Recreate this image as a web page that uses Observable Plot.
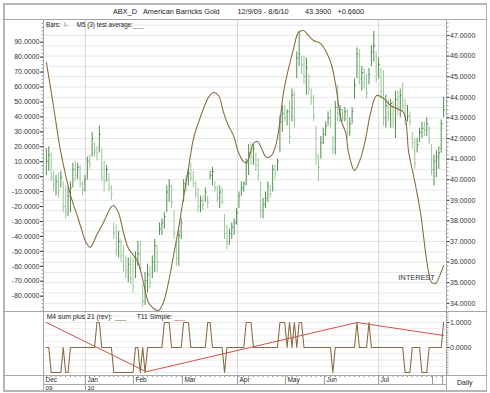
<!DOCTYPE html>
<html><head><meta charset="utf-8">
<script src="https://cdn.jsdelivr.net/npm/d3@7"></script>
<script src="https://cdn.jsdelivr.net/npm/@observablehq/plot@0.6"></script>
<style>
body{margin:0;background:#fff;font-family:"Liberation Sans",Arial,sans-serif;}
#wrap{position:relative;width:490px;height:393px;overflow:hidden;background:#fff;}
.ln{position:absolute;}
.t{position:absolute;white-space:pre;color:#222;line-height:1;}
</style></head><body><div id="wrap"></div>
<script>
// ---- data: daily bars (bar index 0 = 12/9/09 ... 165 = 8/6/10) ----
const hi = [41.5,41.6,41.3,40.4,40.2,40.3,40.4,39.9,39.7,39.6,
39.9,40.8,40.9,40.8,40.7,39.9,40.2,41.1,41.2,42.3,
41.8,41.6,42.6,41.5,40.9,40.7,40.3,39.7,37.9,37.8,
37.5,37.1,36.8,36.3,36.2,36.3,36.2,36.5,37.0,37.0,
34.9,35.5,35.9,35.8,36.3,37.1,36.8,37.9,38.1,38.4,
39.7,40.0,39.7,38.5,37.1,37.6,38.1,40.0,40.2,40.5,
40.8,40.4,39.9,39.6,39.2,39.2,39.6,39.2,40.4,40.6,
39.9,39.7,39.7,39.6,38.3,37.8,37.6,37.9,38.1,38.6,
39.4,39.9,39.9,41.0,41.7,41.8,41.7,41.3,41.0,39.9,
39.1,39.4,39.9,39.7,40.7,40.7,41.0,43.1,43.6,43.6,
43.4,43.8,44.4,44.3,46.2,47.2,46.0,46.0,45.9,45.1,
44.4,44.1,42.6,41.2,42.1,42.5,42.8,43.3,43.4,42.1,
43.8,44.6,43.6,43.4,43.5,43.4,43.0,43.5,44.9,46.4,
46.3,45.5,45.4,45.1,45.4,46.5,47.2,46.2,45.9,45.4,
45.3,44.1,43.9,43.9,43.8,44.3,44.3,44.4,44.7,43.9,
43.6,43.3,42.3,42.0,42.0,42.5,42.8,42.8,43.0,42.6,
41.7,41.2,41.4,41.6,42.9,44.0];
const lo = [40.2,40.4,39.9,39.4,39.2,39.1,39.6,38.4,38.1,38.2,
38.4,39.6,39.9,40.0,39.6,39.2,39.4,40.0,40.5,41.1,
41.1,40.9,41.3,39.9,39.4,39.9,39.4,39.0,37.1,36.3,
36.2,36.0,35.5,35.2,35.0,34.9,34.5,35.2,35.8,35.5,
33.8,33.9,34.5,34.7,35.2,35.5,35.5,37.3,37.3,37.6,
38.4,38.9,38.6,37.1,35.8,35.8,37.1,38.9,39.4,39.7,
39.9,39.6,39.1,38.4,38.4,38.5,38.9,38.6,40.0,39.7,
39.4,38.9,38.6,38.8,37.1,36.6,36.8,37.1,37.3,37.8,
38.6,39.2,39.4,39.7,40.2,40.7,40.7,40.4,39.9,38.1,
38.1,38.6,38.9,39.1,39.4,40.0,40.4,41.3,42.3,42.8,
42.6,41.7,42.8,42.5,44.9,45.5,45.1,44.6,44.1,44.1,
43.6,42.8,40.7,39.9,41.0,41.7,42.1,42.6,42.5,41.2,
41.2,42.8,42.8,42.8,42.8,42.0,42.1,42.7,43.9,44.9,
44.6,44.3,44.4,43.9,44.6,45.5,45.7,44.7,44.9,43.9,
42.6,42.5,42.8,42.5,42.5,42.0,43.1,43.0,43.3,42.6,
42.8,42.6,41.5,40.5,41.3,41.8,42.0,42.1,42.1,41.7,
40.2,39.7,40.1,40.5,41.3,43.0];
const cl = [40.9,41.2,40.1,39.7,39.9,39.5,40.1,38.7,38.4,39.2,
39.6,40.5,40.2,40.6,39.8,39.5,40.0,40.9,40.8,42.0,
41.4,41.3,42.2,40.1,39.9,40.5,39.6,39.3,37.4,36.6,
37.0,36.3,35.8,35.6,35.9,35.2,34.8,36.2,36.4,35.7,
34.1,35.1,35.4,35.0,36.0,36.8,36.0,37.6,37.9,38.2,
39.4,39.7,38.9,37.4,36.2,37.3,37.9,39.8,39.7,40.3,
40.1,39.8,39.3,38.7,39.0,38.8,39.4,38.9,40.2,40.4,
39.6,39.1,39.4,38.9,37.4,37.0,37.4,37.7,37.9,38.4,
39.2,39.6,39.8,40.8,41.3,41.1,41.5,40.7,40.2,38.5,
38.8,39.1,39.7,39.3,40.5,40.3,40.9,42.8,43.2,43.0,
43.3,42.1,44.1,42.9,45.9,46.1,45.6,45.0,45.4,44.4,
44.0,43.1,41.2,40.6,41.8,42.2,42.6,43.0,42.8,41.5,
43.5,43.2,43.4,43.0,43.3,42.3,42.7,43.3,44.6,46.1,
44.9,45.2,44.7,44.2,45.1,46.2,46.5,45.1,45.6,44.3,
43.0,43.6,43.2,43.7,42.9,43.9,43.5,44.1,43.6,42.9,
43.1,42.8,41.8,40.8,41.7,42.3,42.5,42.4,42.7,41.9,
40.5,40.9,41.1,41.3,42.73,43.39];

// M5 (3) test average (left scale), read at bar positions
const avgIdx = [0,2.9,5.7,8.3,10.4,12.5,14.5,16.5,18.2,20.8,23.7,26.5,27.8,29.9,32,34.1,36.2,38.2,40.3,42.4,44.5,46.5,48.6,50.7,52.8,54.9,56.9,59,61.1,63.2,65.3,67.3,69.4,71.5,73.6,75.6,77.7,79.8,81.9,83.1,84.8,86,87.7,89.4,91.4,93.5,95.6,97.3,98.5,100.6,102.7,104.7,106.8,108.9,111,113.9,116.4,118.5,120.2,121.4,122.7,124.3,125.5,128,130.5,132.6,134.7,137.2,140.1,143,145.5,148.4,150.5,152.5,155.4,157.5,158.8,160,161.7,162.9,165];
const avgVal = [76.6,47.6,18.9,-1.2,-14.6,-24.6,-34.7,-44.1,-47.4,-39.4,-30.7,-21.3,-19.3,-24,-37.4,-48.1,-52.8,-58.1,-70.8,-84.2,-88.2,-89.6,-84.2,-70.8,-52.8,-34.7,-14.6,5.5,25.5,36.3,45.6,53,56.3,54.3,42.9,34.2,27.6,16.2,10.1,9.5,16.2,22.2,23.5,18.9,12.9,14.2,22.9,41,56.3,72.4,85.8,96.5,97.8,94.5,91.1,89.1,83.1,74.4,61,47.6,36.3,29.6,16.2,4.2,12.2,25.5,42.9,54.3,52.3,47.6,45.6,42.9,16.2,0.8,-24,-50.8,-64.2,-70.8,-71.5,-68.1,-59.4];

// lower panel: M4 sum plus 21 (rev) per bar, and T11 Simple
const m4 = [0,0,-1,-1,-1,-1,-1,0,-1,-1,
0,0,0,0,0,0,0,0,0,0,
0,1,1,0,0,0,0,0,-1,-1,
-1,-1,-1,-1,-1,-1,-1,0,0,-1,
0,-1,0,0,0,0,0,0,0,1,
1,1,0,0,0,0,0,1,1,1,
0,0,0,0,0,0,0,1,1,0,
0,0,0,0,-1,0,0,0,0,0,
0,0,0,1,1,1,0,0,0,0,
0,0,0,0,0,0,0,1,1,1,
0,1,0,1,0,1,1,0,0,0,
0,0,0,0,0,0,0,0,0,-1,
0,0,0,0,0,0,0,0,0,1,
0,0,0,0,1,0,0,0,0,0,
0,0,0,0,0,0,0,0,0,-1,
-1,-1,0,0,0,0,-1,-1,-1,0,
0,0,0,0,0,1];
const t11Idx = [0, 41.5, 129, 165];
const t11Val = [1.0, -0.97, 1.0, 0.48];

// axes / ticks
const leftTicks = [90,80,70,60,50,40,30,20,10,0,-10,-20,-30,-40,-50,-60,-70,-80];
const rightTicks = [47,46,45,44,43,42,41,40,39,38,37,36,35,34];
const lowTicks = [1, 0];
const monthIdx = [-1.2, 16.2, 36.2, 56.5, 79.4, 99.3, 115.5, 138, 160.4, 164.6];
const monthLbl = ["Dec","Jan","Feb","Mar","Apr","May","Jun","Jul","",""];
const yearIdx = [-1.2, 16.2];
const yearLbl = ["09","10"];
const quarterIdx = [16.2, 79.4, 138];
const note = [{i: 146.3, v: -67.5, t: "INTEREST"}];

// ---- build ----
const bars = hi.map((h, i) => ({i, h, l: lo[i], c: cl[i], up: i === 0 ? true : cl[i] >= cl[i - 1]}));
const avg = avgIdx.map((i, k) => ({i, v: avgVal[k]}));
const m4d = m4.map((v, i) => ({i, v}));
const t11 = t11Idx.map((i, k) => ({i, v: t11Val[k]}));

const W = 490, ML = 43, MR = 44;
const xDom = [-1.2, 166.2];
const FONT = "'Liberation Sans', Arial, sans-serif";
const brown = "#86693f", dark = "#4f904f", light = "#98c898", red = "#d2524c";
const st = (top) => ({position: "absolute", left: "0px", top: top + "px", background: "transparent", overflow: "visible", fontFamily: FONT});

const wrap = document.getElementById("wrap");
function ln(x, y, w, h, c = "#a9a9a9") { const d = document.createElement("div"); d.className = "ln"; Object.assign(d.style, {left: x + "px", top: y + "px", width: w + "px", height: h + "px", background: c}); wrap.appendChild(d); }
function tx(s, x, y, size, color = "#222") { const d = document.createElement("div"); d.className = "t"; d.textContent = s; Object.assign(d.style, {left: x + "px", top: y + "px", fontSize: size + "px", color}); wrap.appendChild(d); }

const priceGrid = d3.range(34, 47.75, 0.5);
const minorRight = d3.range(33.8, 47.7, 0.2);
const minorLeft = d3.range(-90, 104, 2.5);

const pricePlot = Plot.plot({
  width: W, height: 291, marginLeft: ML, marginRight: MR, marginTop: 0, marginBottom: 0,
  style: st(20),
  x: {domain: xDom, axis: null},
  y: {domain: [33.602, 47.728], axis: null},
  marks: [
    Plot.gridY({ticks: priceGrid, stroke: "#e8e8e8", strokeOpacity: 1}),
    Plot.gridX({ticks: quarterIdx, stroke: "#d8d8d8", strokeOpacity: 1}),
    Plot.axisY({ticks: minorRight, anchor: "right", tickSize: 1.5, tickFormat: () => "", label: null, color: "#999"}),
    Plot.axisY({ticks: rightTicks, anchor: "right", tickSize: 2.5, tickPadding: 1, tickFormat: d => d.toFixed(4), fontSize: 7, label: null, color: "#333"}),
    Plot.ruleX(bars.filter(d => !d.up), {x: "i", y1: "l", y2: "h", stroke: light, strokeWidth: 1}),
    Plot.ruleX(bars.filter(d => d.up), {x: "i", y1: "l", y2: "h", stroke: dark, strokeWidth: 1}),
    Plot.link(bars, {x1: "i", x2: d => d.i + 0.6, y1: "c", y2: "c", stroke: d => d.up ? dark : light, strokeWidth: 1})
  ]
});

const linePlot = Plot.plot({
  width: W, height: 291, marginLeft: ML, marginRight: MR, marginTop: 0, marginBottom: 0,
  style: st(20),
  x: {domain: xDom, axis: null},
  y: {domain: [-90.26, 104.52], axis: null},
  marks: [
    Plot.axisY({ticks: minorLeft, anchor: "left", tickSize: 1.5, tickFormat: () => "", label: null, color: "#999"}),
    Plot.axisY({ticks: leftTicks, anchor: "left", tickSize: 3, tickPadding: 1, tickFormat: d => d.toFixed(4), fontSize: 7, label: null, color: "#333"}),
    Plot.line(avg, {x: "i", y: "v", stroke: brown, strokeWidth: 1.05, curve: "catmull-rom"}),
    Plot.text(note, {x: "i", y: "v", text: "t", textAnchor: "start", fontSize: 7.3, fill: "#333"})
  ]
});

const lowPlot = Plot.plot({
  width: W, height: 64, marginLeft: ML, marginRight: MR, marginTop: 0, marginBottom: 0,
  style: st(311),
  x: {domain: xDom, axis: null},
  y: {domain: [-1.12, 1.44], axis: null},
  marks: [
    Plot.gridY({ticks: d3.range(-1, 1.45, 0.25), stroke: "#ececec", strokeOpacity: 1}),
    Plot.gridX({ticks: quarterIdx, stroke: "#d8d8d8", strokeOpacity: 1}),
    Plot.axisY({ticks: d3.range(-1.1, 1.44, 0.1), anchor: "right", tickSize: 1.5, tickFormat: () => "", label: null, color: "#999"}),
    Plot.axisY({ticks: lowTicks, anchor: "right", tickSize: 2.5, tickPadding: 1, tickFormat: d => d.toFixed(4), fontSize: 7, label: null, color: "#333"}),
    Plot.line(t11, {x: "i", y: "v", stroke: red, strokeWidth: 1}),
    Plot.line(m4d, {x: "i", y: "v", stroke: brown, strokeWidth: 1.05})
  ]
});

const months = monthIdx.map((i, k) => ({i, t: monthLbl[k]}));
const years = yearIdx.map((i, k) => ({i, t: yearLbl[k]}));
const datePlot = Plot.plot({
  width: W, height: 15, marginLeft: ML, marginRight: MR, marginTop: 0, marginBottom: 0,
  style: st(375),
  x: {domain: xDom, axis: null},
  marks: [
    Plot.ruleX(bars.filter(d => d.i % 2 === 0), {x: "i", insetBottom: 13, stroke: "#888"}),
    Plot.ruleX(months.slice(1), {x: "i", insetBottom: 6, stroke: "#999"}),
    Plot.ruleX(years.slice(1), {x: "i", insetTop: 9, stroke: "#999"}),
    Plot.text(months, {x: "i", text: "t", frameAnchor: "top", lineAnchor: "top", dy: 1.5, dx: 2, textAnchor: "start", fontSize: 6.5, fill: "#222"}),
    Plot.text(years, {x: "i", text: "t", frameAnchor: "top", lineAnchor: "top", dy: 9.6, dx: 2, textAnchor: "start", fontSize: 6.2, fill: "#222"})
  ]
});

wrap.appendChild(pricePlot);
wrap.appendChild(linePlot);
wrap.appendChild(lowPlot);
wrap.appendChild(datePlot);

// frame lines
const G = "#a6a6a6";
ln(3, 3, 484, 1.5, "#b5b5b5");
ln(3, 390, 484, 1.5, "#b5b5b5");
ln(3, 3, 1.5, 388.5, "#b5b5b5");
ln(485.5, 3, 1.5, 388.5, "#b5b5b5");
ln(3, 19, 484, 1, G);
ln(43, 19, 1, 371, G);
ln(446, 19, 1, 371, G);
ln(3, 311, 484, 1, G);
ln(3, 375, 484, 1, G);
ln(43, 384, 403, 1, G);

// title
tx("ABX_D", 113, 7.8, 7.3);
tx("American Barricks Gold", 143, 7.8, 7.3);
tx("12/9/09 - 8/6/10", 237.5, 7.8, 7.3);
tx("43.3900", 305, 7.8, 7.3);
tx("+0.6600", 337.5, 7.8, 7.3);
// legends
tx("Bars:", 46, 21.7, 6.3);
tx("I-", 64, 21.7, 6.3, dark);
tx("M5 (3) test average:", 76.7, 21.7, 6.3);
tx("___", 133, 21.7, 6.3, brown);
tx("M4 sum plus 21 (rev):", 46.7, 314.2, 6.8);
tx("___", 115, 314.2, 6.8, brown);
tx("T11 Simple:", 136.7, 314.2, 6.8);
tx("___", 174, 314.2, 6.8, red);
tx("Daily", 457, 378.5, 7);
</script></body></html>
